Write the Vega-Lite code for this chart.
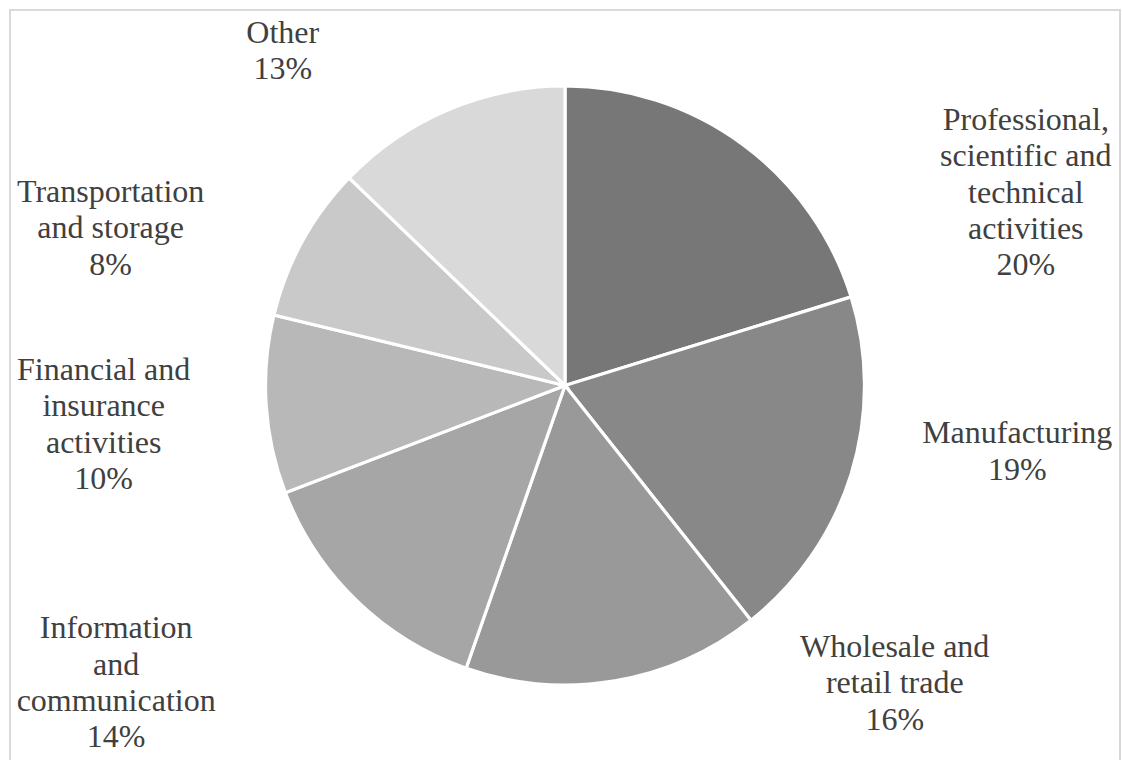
{
  "$schema": "https://vega.github.io/schema/vega-lite/v6.json",
  "width": 1110,
  "height": 751,
  "autosize": "none",
  "padding": {"left": 10, "top": 10, "right": 2, "bottom": 0},
  "background": "white",
  "config": {"view": {"stroke": null}},
  "data": {
    "values": [
      {"idx": 1, "sector": "Professional, scientific and technical activities", "share": 20.2, "label": "Professional,\nscientific and\ntechnical\nactivities\n20%"},
      {"idx": 2, "sector": "Manufacturing", "share": 19.1, "label": "Manufacturing\n19%"},
      {"idx": 3, "sector": "Wholesale and retail trade", "share": 16.0, "label": "Wholesale and\nretail trade\n16%"},
      {"idx": 4, "sector": "Information and communication", "share": 13.8, "label": "Information\nand\ncommunication\n14%"},
      {"idx": 5, "sector": "Financial and insurance activities", "share": 9.6, "label": "Financial and\ninsurance\nactivities\n10%"},
      {"idx": 6, "sector": "Transportation and storage", "share": 8.4, "label": "Transportation\nand storage\n8%"},
      {"idx": 7, "sector": "Other", "share": 12.8, "label": "Other\n13%"}
    ]
  },
  "layer": [
    {
      "transform": [{"filter": "datum.idx === 1"}],
      "mark": {"type": "rect", "fill": null, "fillOpacity": 0, "stroke": "#d9d9d9", "strokeWidth": 2},
      "encoding": {}
    },
    {
      "encoding": {
        "theta": {"field": "share", "type": "quantitative", "stack": true},
        "order": {"field": "idx", "type": "quantitative"},
        "detail": {"field": "sector", "type": "nominal"}
      },
      "layer": [
        {
          "mark": {"type": "arc", "outerRadius": 299.5, "stroke": "white", "strokeWidth": 3.2},
          "encoding": {
            "color": {
              "field": "sector", "type": "nominal", "legend": null,
              "scale": {
                "domain": ["Professional, scientific and technical activities", "Manufacturing", "Wholesale and retail trade", "Information and communication", "Financial and insurance activities", "Transportation and storage", "Other"],
                "range": ["#777777", "#888888", "#999999", "#a6a6a6", "#b8b8b8", "#c9c9c9", "#d9d9d9"]
              }
            }
          }
        },
        {
          "mark": {"type": "text", "radius": 330, "dx": 265, "dy": 10, "align": "center", "baseline": "alphabetic", "font": "Liberation Serif", "fontSize": 32, "lineHeight": 36.4, "lineBreak": "\n", "fill": "#404040"},
          "encoding": {"text": {"condition": {"test": "datum.idx === 1", "field": "label"}, "value": ""}}
        },
        {
          "mark": {"type": "text", "radius": 330, "dx": 137, "dy": -40, "align": "center", "baseline": "alphabetic", "font": "Liberation Serif", "fontSize": 32, "lineHeight": 36.4, "lineBreak": "\n", "fill": "#404040"},
          "encoding": {"text": {"condition": {"test": "datum.idx === 2", "field": "label"}, "value": ""}}
        },
        {
          "mark": {"type": "text", "radius": 330, "dx": 275, "dy": -54, "align": "center", "baseline": "alphabetic", "font": "Liberation Serif", "fontSize": 32, "lineHeight": 36.4, "lineBreak": "\n", "fill": "#404040"},
          "encoding": {"text": {"condition": {"test": "datum.idx === 3", "field": "label"}, "value": ""}}
        },
        {
          "mark": {"type": "text", "radius": 330, "dx": -219, "dy": 16, "align": "center", "baseline": "alphabetic", "font": "Liberation Serif", "fontSize": 32, "lineHeight": 36.4, "lineBreak": "\n", "fill": "#404040"},
          "encoding": {"text": {"condition": {"test": "datum.idx === 4", "field": "label"}, "value": ""}}
        },
        {
          "mark": {"type": "text", "radius": 330, "dx": -132, "dy": -27, "align": "center", "baseline": "alphabetic", "font": "Liberation Serif", "fontSize": 32, "lineHeight": 36.4, "lineBreak": "\n", "fill": "#404040"},
          "encoding": {"text": {"condition": {"test": "datum.idx === 5", "field": "label"}, "value": ""}}
        },
        {
          "mark": {"type": "text", "radius": 330, "dx": -165, "dy": -25, "align": "center", "baseline": "alphabetic", "font": "Liberation Serif", "fontSize": 32, "lineHeight": 36.4, "lineBreak": "\n", "fill": "#404040"},
          "encoding": {"text": {"condition": {"test": "datum.idx === 6", "field": "label"}, "value": ""}}
        },
        {
          "mark": {"type": "text", "radius": 330, "dx": -153, "dy": -39, "align": "center", "baseline": "alphabetic", "font": "Liberation Serif", "fontSize": 32, "lineHeight": 36.4, "lineBreak": "\n", "fill": "#404040"},
          "encoding": {"text": {"condition": {"test": "datum.idx === 7", "field": "label"}, "value": ""}}
        }
      ]
    }
  ]
}
